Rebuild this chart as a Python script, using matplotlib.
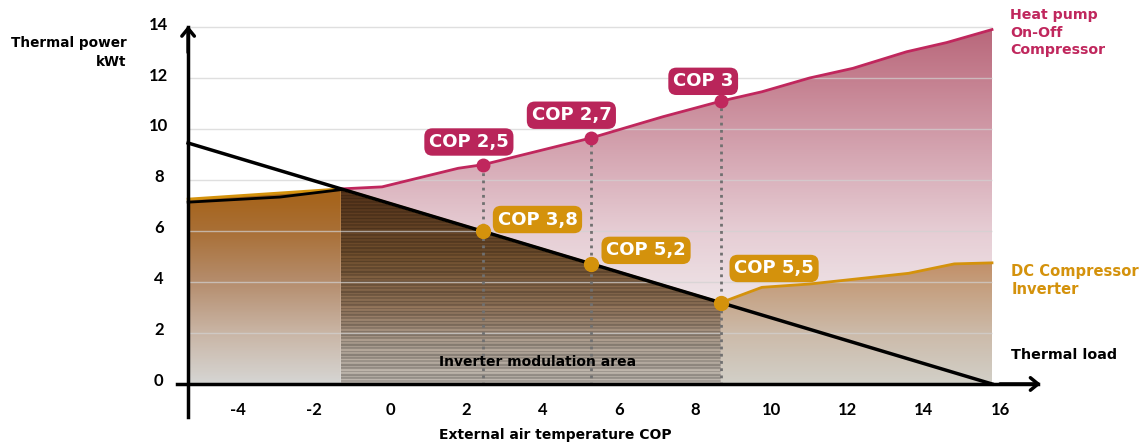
"""Heat pump vs DC inverter compressor: thermal power against outdoor temperature."""

import numpy as np
import matplotlib
matplotlib.use("Agg")
import matplotlib.pyplot as plt  # noqa: E402
from matplotlib.colors import to_rgb  # noqa: E402
from matplotlib.patches import Polygon  # noqa: E402
from matplotlib.transforms import ScaledTranslation  # noqa: E402

plt.rcParams["font.family"] = ["DejaVu Sans"]
plt.rcParams["font.weight"] = "bold"
TICK_FONT = ["Lato", "DejaVu Sans"]

# ---- data ----
x_ticks = [-4, -2, 0, 2, 4, 6, 8, 10, 12, 14, 16]
y_ticks = [0, 2, 4, 6, 8, 10, 12, 14]

x_left, x_right = -5.31, 15.79
load_x = [-5.31, 15.79]
load_y = [9.45, 0.0]

onoff_x = [-1.3, -0.22, 1.78, 2.43, 5.27, 7.15, 8.67, 9.75, 11.0, 12.14, 13.55, 14.6, 15.79]
onoff_y = [7.65, 7.73, 8.46, 8.6, 9.65, 10.48, 11.09, 11.46, 12.0, 12.38, 13.03, 13.39, 13.9]

cold_x = [-5.31, -2.9, -1.3]          # black curve on the cold side
cold_y = [7.13, 7.33, 7.62]

inv_left_x = [-5.31, -1.3]
inv_left_y = [7.25, 7.65]
inv_right_x = [8.67, 9.75, 11.0, 13.6, 14.8, 15.79]
inv_right_y = [3.19, 3.79, 3.92, 4.34, 4.71, 4.75]

cop_x = [2.43, 5.27, 8.67]
cop_onoff = ["COP 2,5", "COP 2,7", "COP 3"]
cop_onoff_y = [8.6, 9.65, 11.09]
cop_inv = ["COP 3,8", "COP 5,2", "COP 5,5"]

CRIMSON = "#c0275d"
BOX_CRIMSON = "#b9255a"
ORANGE = "#d4920c"


def load_at(x):
    x = np.asarray(x, float)
    return load_y[0] + (load_y[1] - load_y[0]) * (x - load_x[0]) / (load_x[1] - load_x[0])


def gradient_fill(ax, xs, ys, stops, zorder, stripes=False):
    xs = list(xs)
    ys = list(ys)
    verts = list(zip(xs, ys)) + [(xs[-1], 0), (xs[0], 0)]
    poly = Polygon(verts, closed=True, facecolor="none", edgecolor="none")
    ax.add_patch(poly)
    ymax = max(ys)
    yy = np.linspace(0, ymax, 600)
    pos = [s[0] for s in stops]
    cols = np.array([to_rgb(s[1]) for s in stops])
    rgb = np.stack([np.interp(yy, pos, cols[:, k]) for k in range(3)], axis=1)
    if stripes:
        pat = 0.09 * np.sign(np.sin(2 * np.pi * yy / 0.13)) + 0.05 * np.sin(2 * np.pi * yy / 0.41)
        rgb = np.clip(rgb * (1 + pat[:, None]), 0, 1)
    img = np.repeat(rgb[:, None, :], 2, axis=1)
    im = ax.imshow(img, extent=[xs[0], xs[-1], 0, ymax], origin="lower",
                   aspect="auto", zorder=zorder, interpolation="nearest")
    im.set_clip_path(poly)


fig = plt.figure(figsize=(11.47, 4.45), dpi=100)
ax = fig.add_axes([0.1527, 0.0598, 0.759, 0.8967])
ax.set_xlim(-5.65, 17.2)
ax.set_ylim(-1.35, 14.3)

# fills
gradient_fill(ax, onoff_x, onoff_y,
              [(0, "#dcd6d4"), (3, "#efe6e9"), (6, "#e6cdd4"), (9, "#d5a6b2"),
               (12, "#c47f8f"), (14, "#b8667a")], zorder=1)
gradient_fill(ax, inv_right_x, inv_right_y,
              [(0, "#d2d0c8"), (2, "#ccbaa9"), (4, "#c49c7a"), (4.8, "#c28e66")], zorder=2)
mod_x = [inv_left_x[-1], cop_x[-1]]
gradient_fill(ax, mod_x, load_at(mod_x),
              [(0, "#aca69f"), (1.5, "#9c9084"), (3, "#816750"), (5, "#654729"),
               (7.65, "#4a2c16")], zorder=2, stripes=True)
gradient_fill(ax, inv_left_x, inv_left_y,
              [(0, "#d6d6d4"), (2, "#c9b5a5"), (4, "#b58d6d"), (6, "#a96f35"),
               (7.3, "#a6641c")], zorder=2)

# grid
ax.hlines(y_ticks[1:], x_left, x_right, color="#d2d2d2", lw=1, alpha=0.7, zorder=3)

# dotted guides
for cx, cy in zip(cop_x, cop_onoff_y):
    ax.plot([cx, cx], [-0.05, cy], ls=(0, (1, 1.6)), color="#707070", lw=2, zorder=4)

# curves
ax.plot(inv_left_x + mod_x + inv_right_x[1:],
        inv_left_y + list(load_at(mod_x)) + inv_right_y[1:],
        color=ORANGE, lw=2, zorder=5)
ax.plot(onoff_x, onoff_y, color=CRIMSON, lw=2, zorder=5)
ax.plot(cold_x, cold_y, color="black", lw=2, zorder=6)
ax.plot(load_x, load_y, color="black", lw=2.5, zorder=6)

ax.plot(cop_x, cop_onoff_y, "o", color=CRIMSON, ms=9, zorder=7)
ax.plot(cop_x, load_at(cop_x), "o", color=ORANGE, ms=10, zorder=7)

# COP badges
onoff_pos = [(2.06, 9.49), (4.75, 10.54), (8.21, 11.87)]
inv_pos = [(3.86, 6.45), (6.71, 5.24), (10.07, 4.53)]
badge = "round,pad=0.26,rounding_size=0.45"
for txt, (bx, by) in zip(cop_onoff, onoff_pos):
    ax.text(bx, by, txt, ha="center", va="center", color="white", fontsize=13,
            fontweight="bold", zorder=8, bbox=dict(boxstyle=badge, fc=BOX_CRIMSON, ec="none"))
for txt, (bx, by) in zip(cop_inv, inv_pos):
    ax.text(bx, by, txt, ha="center", va="center", color="white", fontsize=13,
            fontweight="bold", zorder=8, bbox=dict(boxstyle=badge, fc=ORANGE, ec="none"))

# axes with arrows
for s in ["top", "right"]:
    ax.spines[s].set_visible(False)
ax.spines["left"].set_position(("data", x_left))
ax.spines["left"].set_bounds(-1.3, 14.0)
ax.spines["bottom"].set_position(("data", 0))
ax.spines["bottom"].set_bounds(-5.6, 17.0)
for s in ["left", "bottom"]:
    ax.spines[s].set_linewidth(2.5)
    ax.spines[s].set_zorder(9)
arrow = dict(arrowstyle="->,head_length=0.55,head_width=0.45", lw=2.5,
             color="black", shrinkA=0, shrinkB=0)
ax.annotate("", xy=(x_left, 14.05), xytext=(x_left, 13.0), arrowprops=arrow, zorder=9)
ax.annotate("", xy=(17.07, 0), xytext=(16.0, 0), arrowprops=arrow, zorder=9)

ax.set_xticks(x_ticks)
ax.set_xticklabels([str(v) for v in x_ticks], fontsize=12, fontweight="bold", family=TICK_FONT)
ax.set_yticks(y_ticks)
ax.set_yticklabels([str(v) for v in y_ticks], fontsize=12, fontweight="bold",
                   family=TICK_FONT, ha="center")
ax.tick_params(axis="x", length=0, pad=13)
ax.tick_params(axis="y", length=0, pad=21)
for lab in ax.get_yticklabels():
    lab.set_transform(lab.get_transform() + ScaledTranslation(0, 0.04, fig.dpi_scale_trans))

# text
ax.text(-6.92, 13.0, "Thermal power\nkWt", ha="right", va="center", fontsize=9.8,
        fontweight="bold", linespacing=1.45, clip_on=False)
ax.text(16.26, 13.78, "Heat pump\nOn-Off\nCompressor", ha="left", va="center",
        fontsize=10.2, fontweight="bold", color=CRIMSON, linespacing=1.35, clip_on=False)
ax.text(16.3, 4.06, "DC Compressor\nInverter", ha="left", va="center", fontsize=10.6,
        fontweight="bold", color=ORANGE, linespacing=1.3, clip_on=False)
ax.text(16.3, 1.14, "Thermal load", ha="left", va="center", fontsize=10.3,
        fontweight="bold", clip_on=False)
ax.text(3.87, 0.86, "Inverter modulation area", ha="center", va="center", fontsize=10,
        fontweight="bold", zorder=8)
ax.text(4.32, -2.0, "External air temperature COP", ha="center", va="center",
        fontsize=10, fontweight="bold", clip_on=False)

fig.savefig("out.png", dpi=100)
